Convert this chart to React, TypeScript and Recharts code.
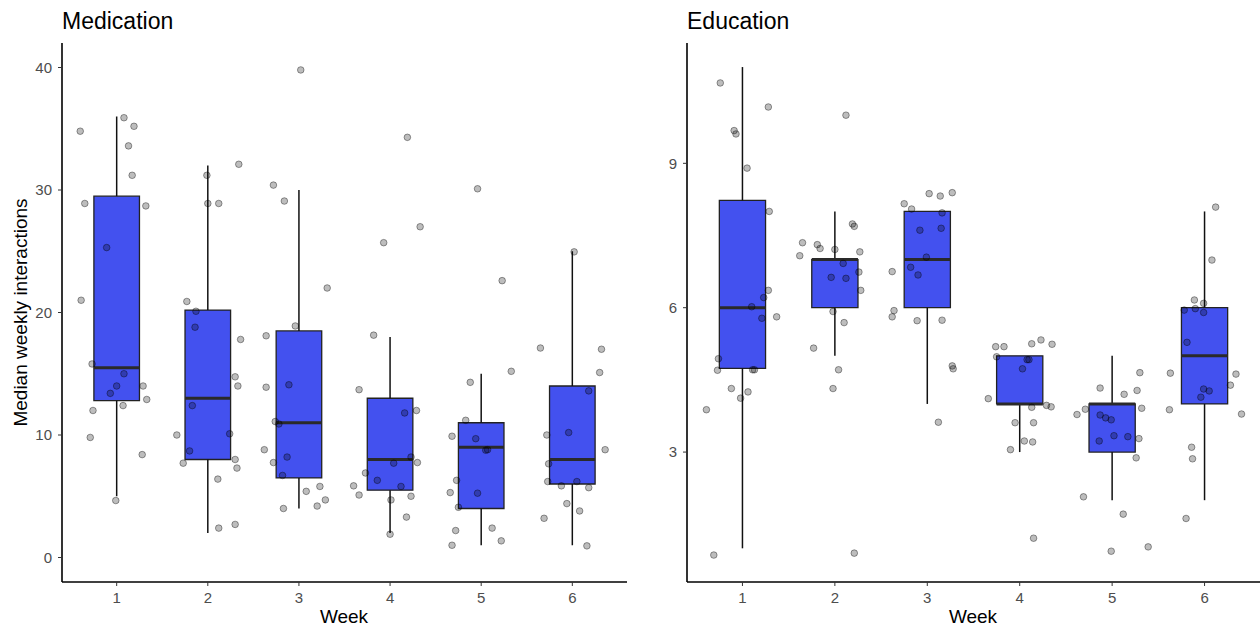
import React from "react";
import {
  ScatterChart,
  Scatter,
  XAxis,
  YAxis,
  ReferenceArea,
  ReferenceLine,
} from "recharts";

const weeks = [1, 2, 3, 4, 5, 6];

// Medication box statistics
const medLower = [5, 2, 4, 2, 1, 1];
const medQ1 = [12.8, 8, 6.5, 5.5, 4, 6];
const medMedian = [15.5, 13, 11, 8, 9, 8];
const medQ3 = [29.5, 20.2, 18.5, 13, 11, 14];
const medUpper = [36, 32, 30, 18, 15, 25];

// Education box statistics
const eduLower = [1, 5, 4, 3, 2, 2];
const eduQ1 = [4.74, 6, 6, 4, 3, 4];
const eduMedian = [6, 7, 7, 4, 4, 5];
const eduQ3 = [8.23, 7, 8, 5, 4, 6];
const eduUpper = [11, 8, 8, 5, 5, 8];

// Jittered points: [horizontal jitter, value]
const medW1 = [[-0.4, 34.8], [0.08, 35.9], [0.19, 35.2], [0.13, 33.6], [0.17, 31.2], [-0.35, 28.9], [0.32, 28.7], [-0.11, 25.3], [-0.39, 21.0], [-0.27, 15.8], [0.08, 15.0], [0.0, 14.0], [0.29, 14.0], [-0.07, 13.4], [0.33, 12.9], [-0.26, 12.0], [0.07, 12.4], [-0.29, 9.8], [0.28, 8.4], [-0.01, 4.65]];
const medW2 = [[-0.01, 31.2], [0.34, 32.1], [0.0, 28.9], [0.12, 28.9], [-0.23, 20.9], [-0.13, 20.1], [-0.14, 18.8], [0.36, 17.8], [0.3, 14.75], [0.33, 14.0], [-0.17, 12.4], [-0.34, 10.0], [0.24, 10.1], [-0.2, 8.7], [0.3, 8.0], [-0.27, 7.7], [0.32, 7.3], [0.11, 6.4], [0.12, 2.4], [0.3, 2.7]];
const medW3 = [[0.02, 39.8], [-0.28, 30.4], [-0.16, 29.1], [0.31, 22.0], [-0.04, 18.9], [-0.36, 18.1], [-0.36, 13.9], [-0.11, 14.1], [-0.26, 11.1], [-0.22, 10.9], [-0.38, 8.8], [-0.13, 8.2], [-0.28, 7.75], [-0.18, 6.7], [0.08, 5.4], [0.23, 5.8], [-0.17, 4.0], [0.2, 4.2], [0.29, 4.7]];
const medW4 = [[0.19, 34.3], [0.33, 27.0], [-0.07, 25.7], [-0.18, 18.15], [-0.34, 13.7], [0.16, 11.8], [0.29, 12.0], [0.23, 8.2], [0.3, 7.75], [0.04, 7.7], [-0.27, 6.9], [-0.14, 6.3], [-0.4, 5.85], [-0.34, 5.1], [0.12, 5.8], [0.23, 5.0], [0.01, 4.7], [0.18, 3.3], [0.0, 1.9]];
const medW5 = [[-0.04, 30.1], [0.23, 22.6], [-0.12, 14.3], [0.33, 15.2], [-0.17, 11.2], [-0.32, 9.9], [-0.06, 9.7], [0.05, 8.76], [0.07, 8.8], [-0.27, 6.3], [-0.34, 5.3], [-0.04, 5.25], [-0.25, 4.1], [-0.28, 2.2], [0.12, 2.4], [0.22, 1.36], [-0.32, 1.0]];
const medW6 = [[0.02, 24.95], [-0.35, 17.1], [0.32, 17.0], [0.3, 15.1], [0.18, 13.6], [-0.04, 10.2], [-0.28, 10.0], [0.36, 8.8], [-0.26, 7.65], [-0.27, 6.2], [0.05, 6.2], [-0.12, 5.85], [0.18, 5.7], [-0.06, 4.4], [0.08, 3.8], [-0.31, 3.2], [0.16, 0.95]];

const eduW1 = [[-0.24, 10.67], [0.28, 10.17], [-0.09, 9.68], [-0.07, 9.61], [0.05, 8.9], [0.29, 8.0], [0.28, 6.36], [0.23, 6.21], [0.1, 6.02], [0.37, 5.81], [0.21, 5.78], [-0.26, 4.94], [-0.27, 4.7], [0.11, 4.71], [0.13, 4.71], [-0.12, 4.32], [0.06, 4.25], [-0.02, 4.12], [-0.39, 3.88], [-0.31, 0.86]];
const eduW2 = [[0.12, 10.0], [0.19, 7.74], [0.21, 7.69], [-0.35, 7.35], [-0.19, 7.31], [-0.16, 7.23], [0.0, 7.21], [0.27, 7.16], [-0.38, 7.08], [0.09, 6.92], [-0.04, 6.63], [0.12, 6.61], [0.26, 6.74], [0.28, 6.36], [-0.02, 5.92], [0.1, 5.69], [-0.23, 5.16], [0.04, 4.71], [-0.02, 4.32], [0.21, 0.9]];
const eduW3 = [[0.02, 8.37], [0.14, 8.32], [0.27, 8.39], [-0.25, 8.16], [-0.17, 8.05], [0.16, 7.97], [-0.08, 7.61], [0.15, 7.65], [-0.01, 7.05], [-0.18, 6.84], [-0.1, 6.68], [-0.38, 6.75], [-0.36, 5.94], [-0.38, 5.81], [-0.11, 5.73], [0.16, 5.74], [0.27, 4.79], [0.28, 4.73], [0.12, 3.62]];
const eduW4 = [[-0.26, 5.19], [-0.17, 5.19], [0.13, 5.25], [0.23, 5.33], [0.35, 5.24], [-0.25, 4.98], [0.08, 4.92], [0.1, 4.92], [0.03, 4.73], [-0.34, 4.11], [0.13, 3.93], [0.29, 3.97], [0.34, 3.94], [-0.05, 3.61], [0.15, 3.61], [0.05, 3.23], [0.14, 3.21], [-0.1, 3.05], [0.15, 1.21]];
const eduW5 = [[0.3, 4.65], [-0.13, 4.33], [0.13, 4.2], [0.27, 4.28], [-0.38, 3.78], [-0.29, 3.89], [0.32, 3.91], [-0.13, 3.77], [-0.07, 3.71], [-0.01, 3.67], [0.02, 3.34], [0.17, 3.32], [-0.14, 3.23], [0.29, 3.28], [0.26, 2.88], [-0.31, 2.07], [0.12, 1.71], [-0.01, 0.94], [0.39, 1.03]];
const eduW6 = [[0.12, 8.09], [0.08, 6.99], [-0.11, 6.16], [-0.01, 6.09], [-0.22, 5.95], [-0.1, 5.98], [-0.01, 5.9], [-0.19, 5.28], [-0.37, 4.64], [0.34, 4.62], [0.28, 4.39], [-0.01, 4.31], [0.05, 4.27], [-0.04, 4.14], [-0.38, 3.88], [0.4, 3.79], [-0.14, 3.1], [-0.13, 2.86], [-0.2, 1.62]];

const medTicks = [0, 10, 20, 30, 40];
const eduTicks = [3, 6, 9];

const FONT = "'Liberation Sans', Arial, sans-serif";
const BOX_FILL = "#4351EF";
const BOX_HALF = 0.25;

type Pair = number[];

function buildPoints(groups: Pair[][]) {
  const out: { x: number; y: number }[] = [];
  groups.forEach((g, i) => {
    g.forEach(([j, v]) => out.push({ x: weeks[i] + j, y: v }));
  });
  return out;
}

const Dot = (p: any) => (
  <circle
    cx={p.cx}
    cy={p.cy}
    r={3.3}
    fill="#000"
    fillOpacity={0.26}
    stroke="#000"
    strokeOpacity={0.38}
    strokeWidth={1}
  />
);

interface PanelProps {
  width: number;
  marginLeft: number;
  marginRight: number;
  domain: [number, number];
  ticks: number[];
  lower: number[];
  q1: number[];
  median: number[];
  q3: number[];
  upper: number[];
  points: { x: number; y: number }[];
}

function Panel(props: PanelProps) {
  const { width, marginLeft, marginRight, domain, ticks, lower, q1, median, q3, upper, points } = props;
  return (
    <ScatterChart
      width={width}
      height={627}
      margin={{ top: 43, right: marginRight, bottom: 0, left: marginLeft }}
    >
      <XAxis
        type="number"
        dataKey="x"
        domain={[0.4, 6.6]}
        ticks={weeks}
        allowDataOverflow
        height={45}
        tickSize={4}
        tickMargin={6}
        axisLine={{ stroke: "#000", strokeWidth: 1.6 }}
        tickLine={{ stroke: "#333", strokeWidth: 1 }}
        tick={{ fill: "#4d4d4d", fontSize: 15, fontFamily: FONT }}
      />
      <YAxis
        type="number"
        dataKey="y"
        domain={domain}
        ticks={ticks}
        allowDataOverflow
        width={30}
        tickSize={4}
        tickMargin={6}
        axisLine={{ stroke: "#000", strokeWidth: 1.6 }}
        tickLine={{ stroke: "#333", strokeWidth: 1 }}
        tick={{ fill: "#4d4d4d", fontSize: 15, fontFamily: FONT }}
      />
      {weeks.map((w, i) => (
        <ReferenceLine
          key={"wl" + w}
          segment={[{ x: w, y: lower[i] }, { x: w, y: q1[i] }]}
          stroke="#111"
          strokeWidth={1.5}
          ifOverflow="visible"
        />
      ))}
      {weeks.map((w, i) => (
        <ReferenceLine
          key={"wu" + w}
          segment={[{ x: w, y: q3[i] }, { x: w, y: upper[i] }]}
          stroke="#111"
          strokeWidth={1.5}
          ifOverflow="visible"
        />
      ))}
      {weeks.map((w, i) => (
        <ReferenceArea
          key={"box" + w}
          x1={w - BOX_HALF}
          x2={w + BOX_HALF}
          y1={q1[i]}
          y2={q3[i]}
          fill={BOX_FILL}
          fillOpacity={1}
          stroke="#222"
          strokeWidth={1.3}
          ifOverflow="visible"
        />
      ))}
      {weeks.map((w, i) => (
        <ReferenceLine
          key={"med" + w}
          segment={[{ x: w - BOX_HALF, y: median[i] }, { x: w + BOX_HALF, y: median[i] }]}
          stroke="#2a2a2a"
          strokeWidth={3}
          ifOverflow="visible"
        />
      ))}
      <Scatter data={points} shape={Dot} isAnimationActive={false} />
    </ScatterChart>
  );
}

const medPoints = buildPoints([medW1, medW2, medW3, medW4, medW5, medW6]);
const eduPoints = buildPoints([eduW1, eduW2, eduW3, eduW4, eduW5, eduW6]);

export default function App() {
  const titleStyle: React.CSSProperties = {
    position: "absolute",
    top: 10,
    fontSize: 23,
    lineHeight: "23px",
    fontFamily: FONT,
    color: "#000",
    whiteSpace: "nowrap",
  };
  const weekStyle: React.CSSProperties = {
    position: "absolute",
    top: 607,
    width: 200,
    textAlign: "center",
    fontSize: 19,
    lineHeight: "19px",
    fontFamily: FONT,
    color: "#000",
  };
  return (
    <div
      style={{
        position: "absolute",
        left: 0,
        top: 0,
        width: 1260,
        height: 627,
        background: "#fff",
        overflow: "hidden",
      }}
    >
      <div style={{ position: "absolute", left: 0, top: 0 }}>
        <Panel
          width={640}
          marginLeft={32}
          marginRight={13}
          domain={[-2, 42]}
          ticks={medTicks}
          lower={medLower}
          q1={medQ1}
          median={medMedian}
          q3={medQ3}
          upper={medUpper}
          points={medPoints}
        />
      </div>
      <div style={{ position: "absolute", left: 640, top: 0 }}>
        <Panel
          width={620}
          marginLeft={17}
          marginRight={0}
          domain={[0.3, 11.5]}
          ticks={eduTicks}
          lower={eduLower}
          q1={eduQ1}
          median={eduMedian}
          q3={eduQ3}
          upper={eduUpper}
          points={eduPoints}
        />
      </div>
      <div style={{ ...titleStyle, left: 62 }}>Medication</div>
      <div style={{ ...titleStyle, left: 687 }}>Education</div>
      <div style={{ ...weekStyle, left: 344 - 100 }}>Week</div>
      <div style={{ ...weekStyle, left: 973 - 100 }}>Week</div>
      <div
        style={{
          position: "absolute",
          left: 20 - 200,
          top: 312 - 9.5,
          width: 400,
          textAlign: "center",
          fontSize: 19,
          lineHeight: "19px",
          fontFamily: FONT,
          color: "#000",
          transform: "rotate(-90deg)",
          transformOrigin: "50% 50%",
          whiteSpace: "nowrap",
        }}
      >
        Median weekly interactions
      </div>
    </div>
  );
}
